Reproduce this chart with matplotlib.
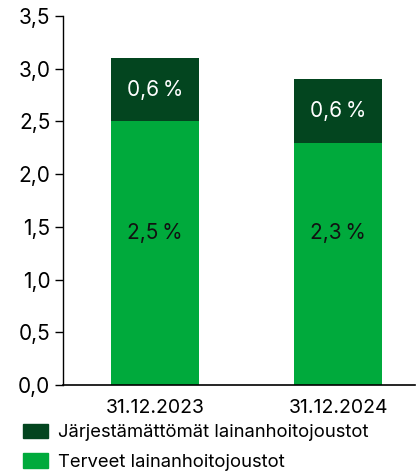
import matplotlib
matplotlib.use('Agg')
import matplotlib.pyplot as plt
from matplotlib.patches import Patch

plt.rcParams['font.family'] = ['Inter', 'DejaVu Sans']

dates = ['31.12.2023', '31.12.2024']
healthy = [2.5, 2.3]      # Terveet lainanhoitojoustot
unresolved = [0.6, 0.6]   # Järjestämättömät lainanhoitojoustot
yticks = [0.0, 0.5, 1.0, 1.5, 2.0, 2.5, 3.0, 3.5]
legend_labels = ['Järjestämättömät lainanhoitojoustot', 'Terveet lainanhoitojoustot']

DARK = '#03451f'
LIGHT = '#00aa3c'


def fmt(v):
    return '{0:.1f}'.format(v).replace('.', ',')


def main():
    fig = plt.figure(figsize=(4.16, 4.73), dpi=100)
    ax = fig.add_axes([63/416, 88/473, 352/416, 369/473])

    x = list(range(len(dates)))
    width = 0.48
    ax.bar(x, healthy, width, color=LIGHT)
    ax.bar(x, unresolved, width, bottom=healthy, color=DARK)

    for i in x:
        ax.text(i, 1.44, fmt(healthy[i]) + '\u2009%', ha='center', va='center',
                fontsize=15, color='#111111')
        ax.text(i, healthy[i] + unresolved[i] / 2, fmt(unresolved[i]) + '\u2009%',
                ha='center', va='center', fontsize=15, color='white')

    ax.set_xlim(-0.503, 1.42)
    ax.set_ylim(0, 3.5)
    ax.set_yticks(yticks)
    ax.set_yticklabels([fmt(v) for v in yticks])
    ax.set_xticks(x)
    ax.set_xticklabels(dates)
    ax.tick_params(axis='y', length=6, width=1, labelsize=15, pad=3)
    ax.tick_params(axis='x', length=0, labelsize=14, pad=10)
    for s in ['top', 'right']:
        ax.spines[s].set_visible(False)
    ax.spines['left'].set_linewidth(1)
    ax.spines['bottom'].set_linewidth(1.2)

    handles = [Patch(color=DARK), Patch(color=LIGHT)]
    fig.legend(handles, legend_labels, loc='upper left',
               bbox_to_anchor=(23/416, 1 - 424/473), frameon=False,
               fontsize=13.3, handlelength=1.35, handleheight=0.8,
               handletextpad=0.55, labelspacing=0.65, borderpad=0,
               borderaxespad=0)

    fig.savefig('out.png', dpi=100)


if __name__ == "__main__":
    main()
